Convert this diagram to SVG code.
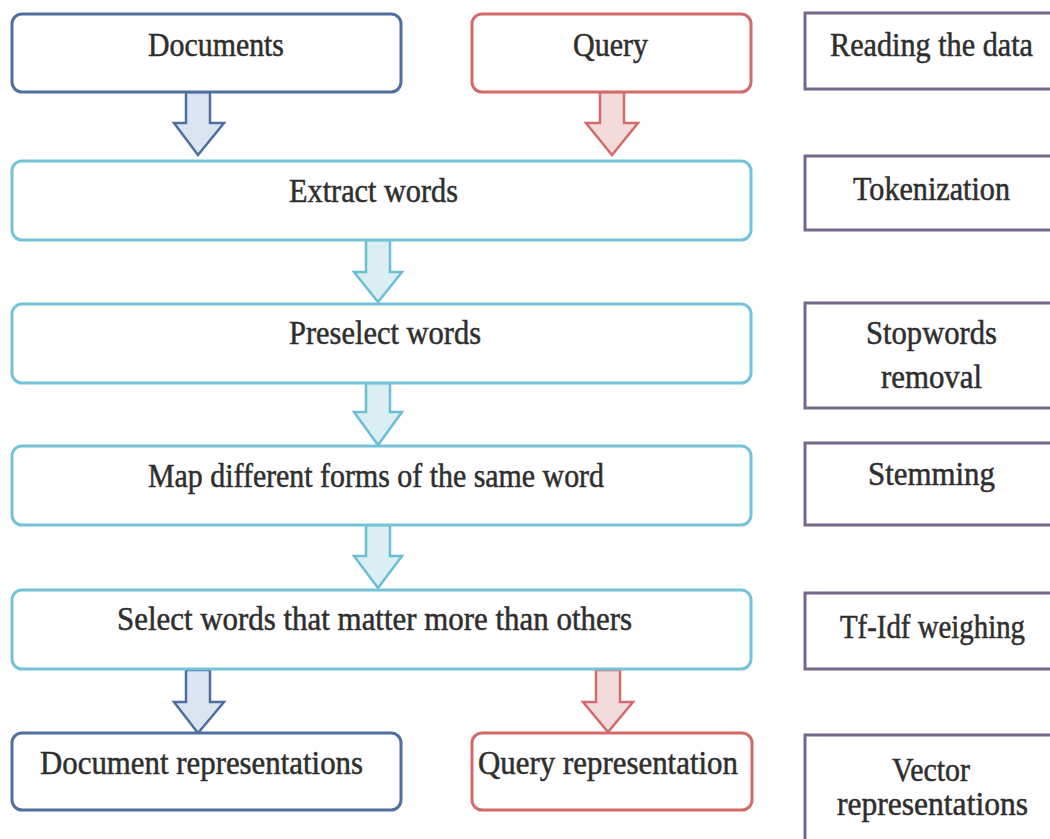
<svg xmlns="http://www.w3.org/2000/svg" width="1050" height="839" viewBox="0 0 1050 839">
<style>
.t{font-family:"Liberation Serif",serif;font-size:33px;fill:#2e2e2e;stroke:#2e2e2e;stroke-width:0.5}
.blue{fill:#fff;stroke:#4f6fa0;stroke-width:3}
.red{fill:#fff;stroke:#d46a6a;stroke-width:3}
.cyan{fill:#fff;stroke:#74c4d9;stroke-width:3}
.purp{fill:#fff;stroke:#74688a;stroke-width:3}
.ab{fill:#dbe5f1;stroke:#4f6fa0;stroke-width:2.5;stroke-linejoin:miter}
.ar{fill:#f2dcdb;stroke:#d46a6a;stroke-width:2.5}
.ac{fill:#daeef3;stroke:#6bbfd5;stroke-width:2.5}
</style>
<rect width="1050" height="839" fill="#fff"/>
<g id="connectors">
<path class="ab" d="M186,92 H210 V123 H224 L198,155 L174,123 H186 Z"/>
<path class="ar" d="M600,92 H624 V123 H638 L612,155 L586,123 H600 Z"/>
<path class="ac" d="M366,240 H390 V272 H402 L378,302 L354,272 H366 Z"/>
<path class="ac" d="M366,383 H390 V412 H402 L378,445 L354,412 H366 Z"/>
<path class="ac" d="M366,525 H390 V556 H402 L378,588 L354,556 H366 Z"/>
<path class="ab" d="M186,670 H210 V702 H224 L198,733 L174,702 H186 Z"/>
<path class="ar" d="M596,670 H620 V702 H633 L608,732 L583,702 H596 Z"/>
</g>
<g id="documents"><rect class="blue" x="12" y="14" width="389" height="78" rx="10"/><text class="t" x="148" y="56" textLength="136" lengthAdjust="spacingAndGlyphs">Documents</text></g>
<g id="query"><rect class="red" x="472" y="14" width="279" height="78" rx="10"/><text class="t" x="573" y="56" textLength="75" lengthAdjust="spacingAndGlyphs">Query</text></g>
<g id="reading"><rect class="purp" x="805" y="13" width="260" height="76"/><text class="t" x="830" y="56" textLength="203" lengthAdjust="spacingAndGlyphs">Reading the data</text></g>
<g id="extract"><rect class="cyan" x="12" y="161" width="739" height="79" rx="10"/><text class="t" x="289" y="202" textLength="169" lengthAdjust="spacingAndGlyphs">Extract words</text></g>
<g id="tokenization"><rect class="purp" x="805" y="156" width="260" height="74"/><text class="t" x="853" y="200" textLength="157" lengthAdjust="spacingAndGlyphs">Tokenization</text></g>
<g id="preselect"><rect class="cyan" x="12" y="304" width="739" height="79" rx="10"/><text class="t" x="289" y="344" textLength="192" lengthAdjust="spacingAndGlyphs">Preselect words</text></g>
<g id="stopwords"><rect class="purp" x="805" y="303" width="260" height="105"/><text class="t" x="866" y="344" textLength="131" lengthAdjust="spacingAndGlyphs">Stopwords</text><text class="t" x="881" y="388" textLength="101" lengthAdjust="spacingAndGlyphs">removal</text></g>
<g id="map"><rect class="cyan" x="12" y="446" width="739" height="79" rx="10"/><text class="t" x="148" y="487" textLength="456" lengthAdjust="spacingAndGlyphs">Map different forms of the same word</text></g>
<g id="stemming"><rect class="purp" x="805" y="443" width="260" height="82"/><text class="t" x="868" y="485" textLength="127" lengthAdjust="spacingAndGlyphs">Stemming</text></g>
<g id="select"><rect class="cyan" x="12" y="590" width="739" height="79" rx="10"/><text class="t" x="117" y="630" textLength="515" lengthAdjust="spacingAndGlyphs">Select words that matter more than others</text></g>
<g id="tfidf"><rect class="purp" x="805" y="593" width="260" height="76"/><text class="t" x="840" y="638" textLength="185" lengthAdjust="spacingAndGlyphs">Tf-Idf weighing</text></g>
<g id="docrep"><rect class="blue" x="12" y="733" width="389" height="77" rx="10"/><text class="t" x="40" y="774" textLength="323" lengthAdjust="spacingAndGlyphs">Document representations</text></g>
<g id="queryrep"><rect class="red" x="472" y="733" width="280" height="77" rx="10"/><text class="t" x="478" y="774" textLength="260" lengthAdjust="spacingAndGlyphs">Query representation</text></g>
<g id="vector"><rect class="purp" x="805" y="735" width="260" height="120"/><text class="t" x="892" y="781" textLength="78" lengthAdjust="spacingAndGlyphs">Vector</text><text class="t" x="837" y="815" textLength="191" lengthAdjust="spacingAndGlyphs">representations</text></g>
</svg>
